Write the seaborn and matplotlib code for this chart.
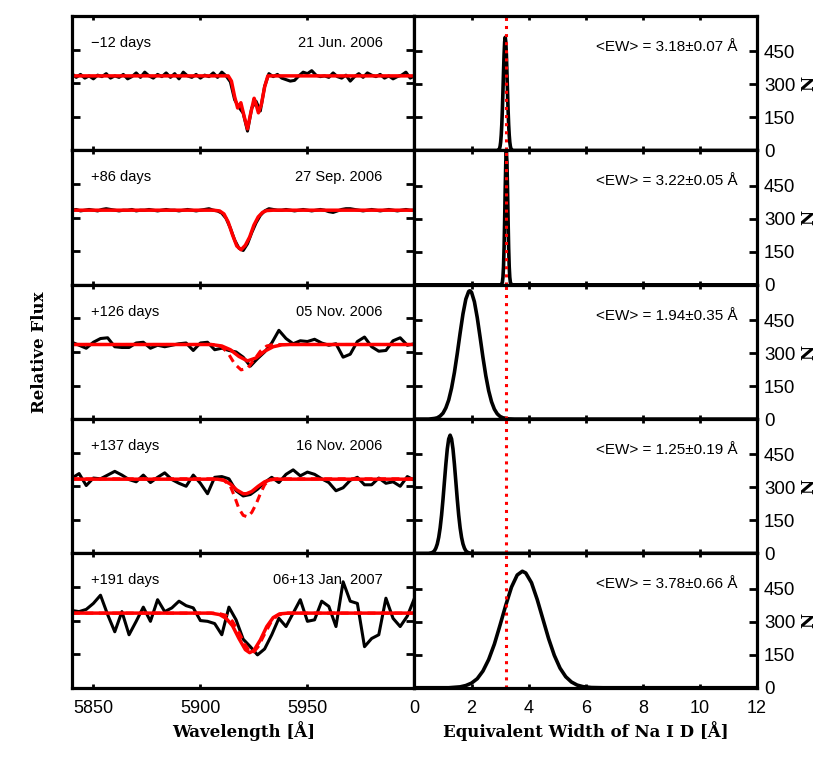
import numpy as np
import matplotlib
matplotlib.use("Agg")
import matplotlib.pyplot as plt
import seaborn as sns

# --- panel annotations ---
phases = ["\u221212 days", "+86 days", "+126 days", "+137 days", "+191 days"]
dates = ["21 Jun. 2006", "27 Sep. 2006", "05 Nov. 2006", "16 Nov. 2006", "06+13 Jan. 2007"]
ew_text = ["<EW> = 3.18\u00b10.07 \u00c5", "<EW> = 3.22\u00b10.05 \u00c5",
           "<EW> = 1.94\u00b10.35 \u00c5", "<EW> = 1.25\u00b10.19 \u00c5",
           "<EW> = 3.78\u00b10.66 \u00c5"]
ew_ref = 3.22

# --- spectra (relative flux) ---
wave_hi = np.linspace(5840, 6000, 81)   # first two epochs, 2 A sampling
wave_lo = np.linspace(5840, 6000, 49)   # later epochs, coarser

flux_1 = [1.03, 0.98, 1.02, 0.97, 1.00, 0.96, 1.01, 0.99, 1.03, 0.97,
          1.00, 0.98, 1.02, 0.96, 0.99, 1.04, 0.98, 1.05, 1.00, 0.97,
          1.02, 0.99, 1.04, 0.98, 1.03, 0.96, 1.05, 1.00, 0.98, 1.02,
          0.97, 1.01, 0.99, 1.04, 0.98, 1.05, 1.00, 0.92, 0.68, 0.58,
          0.50, 0.26, 0.57, 0.66, 0.53, 0.86, 1.03, 0.99, 1.02, 0.97,
          0.95, 0.93, 0.94, 1.00, 1.05, 1.03, 1.07, 1.01, 0.99, 1.00,
          0.98, 1.04, 0.99, 0.97, 1.01, 0.93, 0.99, 1.03, 0.98, 1.04,
          1.01, 0.99, 1.02, 0.97, 1.00, 0.96, 0.99, 1.01, 1.05, 0.97,
          1.00]
flux_2 = [1.00, 1.01, 0.99, 1.00, 1.01, 1.00, 0.99, 1.01, 1.02, 1.01,
          1.00, 0.99, 1.00, 1.00, 1.01, 0.99, 1.00, 1.00, 1.01, 1.00,
          0.99, 1.00, 1.01, 1.00, 1.00, 0.99, 1.00, 1.01, 1.00, 0.99,
          1.00, 1.01, 1.02, 1.00, 0.99, 0.96, 0.89, 0.76, 0.60, 0.49,
          0.46, 0.55, 0.70, 0.83, 0.93, 0.99, 1.02, 1.01, 1.00, 1.00,
          1.01, 1.00, 0.99, 1.00, 1.01, 1.00, 0.99, 1.00, 1.01, 1.00,
          0.98, 0.97, 0.99, 1.01, 1.02, 1.02, 1.01, 1.00, 0.99, 1.00,
          1.01, 1.00, 0.99, 1.00, 1.01, 1.00, 0.99, 1.00, 1.01, 1.00,
          1.00]
flux_3 = [1.03, 0.99, 0.95, 1.03, 1.08, 1.09, 0.97, 0.96, 0.96, 1.02,
          1.03, 0.95, 0.99, 0.97, 0.99, 1.01, 1.02, 0.92, 1.02, 1.03,
          0.93, 0.95, 0.92, 0.90, 0.83, 0.71, 0.81, 0.90, 1.02, 1.19,
          1.08, 1.01, 1.05, 1.04, 1.07, 1.02, 0.99, 1.01, 0.83, 0.87,
          1.04, 1.10, 0.97, 0.91, 0.92, 1.05, 1.09, 0.99, 1.01]
flux_4 = [1.01, 1.07, 0.91, 1.01, 1.00, 1.05, 1.10, 1.05, 0.99, 0.96,
          1.05, 0.95, 1.02, 1.08, 0.99, 0.94, 0.90, 1.05, 0.94, 0.80,
          1.02, 1.03, 1.00, 0.84, 0.77, 0.79, 0.86, 0.95, 1.02, 0.95,
          1.06, 1.12, 1.04, 1.09, 1.06, 1.00, 0.95, 0.84, 0.88, 0.98,
          1.02, 0.92, 0.92, 1.01, 0.94, 0.96, 0.90, 1.03, 0.98]
flux_5 = [1.035, 1.02, 1.05, 1.13, 1.24, 0.98, 0.75, 1.02, 0.71, 0.89,
          1.08, 0.89, 1.18, 1.02, 1.07, 1.16, 1.10, 1.07, 0.90, 0.89,
          0.86, 0.71, 1.08, 0.91, 0.65, 0.55, 0.44, 0.52, 0.71, 0.93,
          0.82, 1.00, 1.18, 0.89, 0.91, 1.16, 1.09, 0.82, 1.42, 1.16,
          1.13, 0.55, 0.66, 0.71, 1.20, 0.93, 0.82, 0.96, 1.20]

# --- fitted profiles (red solid) and reference profile (red dashed) ---
fit_w1 = [5840, 5913, 5914.5, 5916, 5917.4, 5918.9, 5920.5, 5922, 5923.5, 5925.1,
          5926, 5927.1, 5928.5, 5930, 5931.5, 6000]
fit_f1 = [1.0, 1.0, 0.93, 0.72, 0.57, 0.64, 0.45, 0.29, 0.50, 0.70,
          0.62, 0.505, 0.62, 0.85, 1.0, 1.0]
fit_w2 = [5840, 5906, 5909, 5911, 5913, 5915, 5917, 5919, 5921, 5923, 5925, 5927,
          5929, 5931, 5934, 6000]
fit_f2 = [1.0, 1.0, 0.99, 0.95, 0.84, 0.67, 0.52, 0.47, 0.53, 0.64, 0.80, 0.91,
          0.97, 0.995, 1.0, 1.0]
fit_w3 = [5840, 5905, 5910, 5914, 5918, 5922, 5926, 5930, 5934, 5938, 5942, 6000]
fit_f3 = [1.0, 1.0, 0.98, 0.93, 0.84, 0.78, 0.82, 0.91, 0.97, 0.995, 1.0, 1.0]
fit_w4 = [5840, 5908, 5911, 5914, 5917, 5920, 5921.5, 5924, 5927, 5930, 5933, 5936, 6000]
fit_f4 = [0.995, 0.995, 0.98, 0.93, 0.85, 0.80, 0.80, 0.83, 0.90, 0.96, 0.99, 0.995, 0.995]
fit_w5 = [5840, 5905, 5909, 5912, 5915, 5918, 5921, 5923, 5925, 5928, 5931, 5934,
          5937, 5941, 6000]
fit_f5 = [1.0, 1.0, 0.98, 0.93, 0.83, 0.66, 0.51, 0.47, 0.50, 0.64, 0.82, 0.94,
          0.99, 1.0, 1.0]

ref_w3 = [5840, 5906, 5910, 5913, 5916, 5919, 5922, 5925, 5928, 5931, 5934, 6000]
ref_f3 = [1.0, 1.0, 0.97, 0.88, 0.74, 0.66, 0.68, 0.79, 0.91, 0.98, 1.0, 1.0]
ref_w4 = [5840, 5908, 5911, 5914, 5916, 5918, 5920, 5922, 5924, 5926, 5928, 5930,
          5932, 5935, 6000]
ref_f4 = [1.0, 1.0, 0.98, 0.90, 0.76, 0.60, 0.51, 0.49, 0.55, 0.66, 0.80, 0.92,
          0.98, 1.0, 1.0]
ref_w5 = [5840, 5908, 5912, 5915, 5918, 5921, 5923, 5925, 5927, 5930, 5933, 5936,
          5940, 6000]
ref_f5 = [1.0, 1.0, 0.97, 0.89, 0.74, 0.57, 0.49, 0.48, 0.55, 0.72, 0.88, 0.97,
          1.0, 1.0]

# --- EW distributions (N per EW bin) ---
ew_x1 = [0, 2.90, 2.96, 2.98, 3.00, 3.02, 3.04, 3.06, 3.08, 3.10, 3.12, 3.14, 3.16,
         3.18, 3.20, 3.22, 3.24, 3.26, 3.28, 3.30, 3.32, 3.34, 3.36, 3.38, 3.40,
         3.46, 12]
ew_n1 = [0, 0, 4, 9, 19, 38, 70, 118, 185, 268, 356, 437, 493,
         514, 493, 437, 356, 268, 185, 118, 70, 38, 19, 9, 4,
         0, 0]
ew_x2 = [0, 3.02, 3.06, 3.08, 3.10, 3.12, 3.14, 3.16, 3.18, 3.20, 3.22, 3.24,
         3.26, 3.28, 3.30, 3.32, 3.34, 3.36, 3.38, 3.42, 12]
ew_n2 = [0, 0, 4, 12, 34, 82, 168, 294, 439, 558, 605, 558,
         439, 294, 168, 82, 34, 12, 4, 0, 0]
ew_x3 = [0, 0.5, 0.7, 0.8, 0.9, 1.0, 1.1, 1.2, 1.3, 1.4, 1.5, 1.6, 1.7, 1.8,
         1.9, 1.94, 2.0, 2.1, 2.2, 2.3, 2.4, 2.5, 2.6, 2.7, 2.8, 2.9, 3.0,
         3.1, 3.3, 3.5, 12]
ew_n3 = [0, 0, 3, 6, 14, 27, 51, 87, 141, 212, 298, 391, 478, 545,
         580, 583, 576, 533, 461, 372, 280, 197, 129, 79, 45, 24, 12,
         6, 1, 0, 0]
ew_x4 = [0, 0.5, 0.60, 0.65, 0.70, 0.75, 0.80, 0.85, 0.90, 0.95, 1.00, 1.05,
         1.10, 1.15, 1.20, 1.25, 1.30, 1.35, 1.40, 1.45, 1.50, 1.55, 1.60,
         1.65, 1.70, 1.75, 1.80, 1.85, 1.90, 2.0, 12]
ew_n4 = [0, 0, 3, 6, 12, 24, 43, 73, 116, 174, 246, 326,
         405, 474, 520, 537, 520, 474, 405, 326, 246, 174, 116,
         73, 43, 24, 12, 6, 3, 0, 0]
ew_x5 = [0, 1.2, 1.4, 1.6, 1.8, 2.0, 2.2, 2.4, 2.6, 2.8, 3.0, 3.2, 3.4, 3.6,
         3.78, 3.9, 4.1, 4.3, 4.5, 4.7, 4.9, 5.1, 5.3, 5.5, 5.7, 5.9, 6.2,
         6.6, 12]
ew_n5 = [0, 0, 2, 4, 10, 21, 41, 76, 128, 198, 285, 375, 457, 512,
         529, 521, 477, 401, 312, 223, 147, 89, 50, 26, 12, 5, 1,
         0, 0]

fluxes = [(wave_hi, flux_1), (wave_hi, flux_2), (wave_lo, flux_3),
          (wave_lo, flux_4), (wave_lo, flux_5)]
fits = [(fit_w1, fit_f1), (fit_w2, fit_f2), (fit_w3, fit_f3),
        (fit_w4, fit_f4), (fit_w5, fit_f5)]
refs = [None, None, (ref_w3, ref_f3), (ref_w4, ref_f4), (ref_w5, ref_f5)]
dists = [(ew_x1, ew_n1), (ew_x2, ew_n2), (ew_x3, ew_n3),
         (ew_x4, ew_n4), (ew_x5, ew_n5)]

sns.set_style("ticks")
plt.rcParams['font.family'] = ['Liberation Sans', 'DejaVu Sans']
plt.rcParams.update({
    'axes.linewidth': 2.3,
    'axes.edgecolor': 'black',
    'xtick.color': 'black',
    'ytick.color': 'black',
    'text.color': 'black',
    'axes.labelcolor': 'black',
})

bold = dict(family='DejaVu Serif', weight='bold', size=12)

fig = plt.figure(figsize=(8.3, 7.71), dpi=100)
gs = fig.add_gridspec(5, 2, left=0.0867, right=0.912, top=0.979, bottom=0.108,
                      hspace=0, wspace=0)

for i in range(5):
    axl = fig.add_subplot(gs[i, 0])
    axr = fig.add_subplot(gs[i, 1])

    # spectrum
    w, f = fluxes[i]
    sns.lineplot(x=w, y=f, ax=axl, color='black', linewidth=2.2, estimator=None)
    if refs[i] is not None:
        sns.lineplot(x=refs[i][0], y=refs[i][1], ax=axl, color='red',
                     linewidth=2.2, estimator=None, linestyle=(0, (2.6, 1.8)))
    sns.lineplot(x=fits[i][0], y=fits[i][1], ax=axl, color='red',
                 linewidth=2.5, estimator=None)
    axl.set_xlim(5840, 6000)
    axl.set_ylim(0, 1.8)
    axl.set_xticks([5850, 5900, 5950])
    axl.set_yticks([0.45, 0.9, 1.35])
    axl.set_yticklabels([])
    axl.set_xlabel('')
    axl.set_ylabel('')
    axl.tick_params(axis='both', direction='in', top=True, right=True, width=2)
    axl.tick_params(axis='y', length=6)
    axl.tick_params(axis='x', length=3, labelsize=13, pad=9)
    axl.text(0.055, 0.80, phases[i], transform=axl.transAxes, fontsize=10.5,
             ha='left', va='center')
    axl.text(0.907, 0.80, dates[i], transform=axl.transAxes, fontsize=10.5,
             ha='right', va='center')

    # EW distribution
    ex, en = dists[i]
    sns.lineplot(x=ex, y=en, ax=axr, color='black', linewidth=2.6, estimator=None)
    axr.axvline(ew_ref, color='red', linestyle=':', linewidth=2.2)
    axr.set_xlim(0, 12)
    axr.set_ylim(0, 610)
    axr.set_xticks([0, 2, 4, 6, 8, 10, 12])
    axr.set_yticks([0, 150, 300, 450])
    axr.yaxis.tick_right()
    axr.yaxis.set_label_position('right')
    axr.tick_params(axis='both', direction='in', top=True, left=True, right=True, width=2)
    axr.tick_params(axis='y', length=6, labelsize=13.5, pad=5)
    axr.tick_params(axis='x', length=3, labelsize=13, pad=9)
    axr.set_xlabel('')
    axr.set_ylabel('N', fontdict=bold)
    axr.yaxis.set_label_coords(1.125, 0.5)
    axr.text(0.944, 0.77, ew_text[i], transform=axr.transAxes, fontsize=11,
             ha='right', va='center')

    if i < 4:
        axl.set_xticklabels([])
        axr.set_xticklabels([])
    else:
        axl.set_xlabel('Wavelength [\u00c5]', fontdict=bold, labelpad=3)
        axr.set_xlabel('Equivalent Width of Na I D [\u00c5]', fontdict=bold, labelpad=3)

fig.text(0.048, 0.543, 'Relative Flux', rotation=90, ha='center', va='center',
         fontdict=bold)

fig.savefig('out.png', dpi=100)
